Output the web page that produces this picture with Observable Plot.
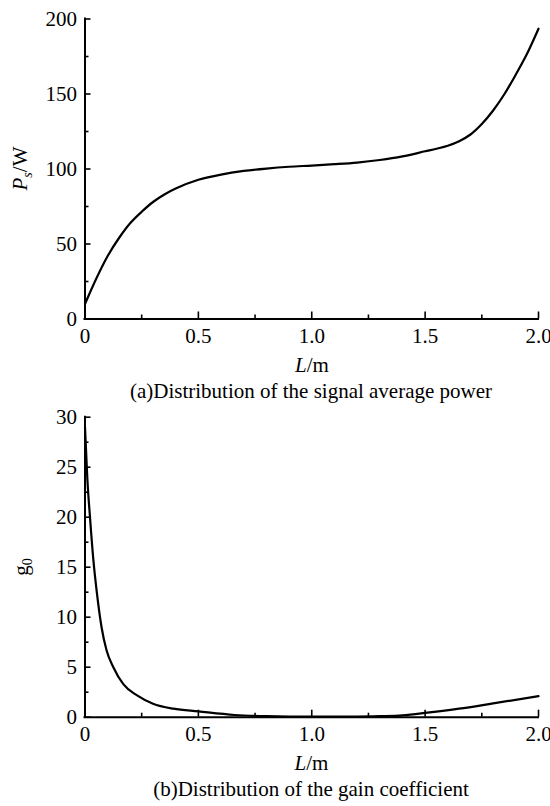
<!DOCTYPE html>
<html>
<head>
<meta charset="utf-8">
<script src="https://cdn.jsdelivr.net/npm/d3@7"></script>
<script src="https://cdn.jsdelivr.net/npm/@observablehq/plot@0.6"></script>
<style>
  body { margin: 0; background: #fff; }
  #chart { width: 550px; height: 806px; }
  #chart svg { display: block; font-family: "Liberation Serif", "Times New Roman", serif !important; }
  #chart svg text, #chart svg g { font-family: "Liberation Serif", "Times New Roman", serif !important; font-variant: normal !important; font-variant-numeric: normal !important; }
</style>
</head>
<body>
<div id="chart"></div>
<script>
// ---- Data ----
// (a) signal average power Ps (W) vs L (m)
const La = [0, 0.05, 0.10, 0.15, 0.20, 0.25, 0.30, 0.35, 0.40, 0.50, 0.60, 0.70, 0.80, 0.90, 1.00, 1.10, 1.20, 1.30, 1.40, 1.50, 1.55, 1.60, 1.65, 1.70, 1.75, 1.80, 1.85, 1.90, 1.95, 2.00];
const Ps = [10, 27, 42, 54, 64, 71.5, 78, 83, 87, 92.8, 96.3, 98.7, 100.3, 101.5, 102.3, 103.2, 104.3, 106, 108.4, 111.8, 113.5, 115.5, 118.5, 123, 130, 139, 150, 163, 177, 193.5];
// (b) gain coefficient g0 vs L (m)
const Lb = [0, 0.005, 0.01, 0.022, 0.037, 0.051, 0.073, 0.095, 0.125, 0.169, 0.228, 0.30, 0.39, 0.50, 0.66, 0.80, 1.00, 1.20, 1.30, 1.40, 1.51, 1.65, 1.80, 2.00];
const g0 = [29, 26.5, 24, 20, 15.7, 12.7, 9, 6.7, 5, 3.3, 2.2, 1.35, 0.85, 0.58, 0.22, 0.1, 0.05, 0.06, 0.1, 0.18, 0.45, 0.85, 1.38, 2.1];

// ---- Ticks ----
const xTicks = [0, 0.5, 1.0, 1.5, 2.0];
const xTickLabels = ["0", "0.5", "1.0", "1.5", "2.0"];
const xMinor = [0.25, 0.75, 1.25, 1.75];
const yTicksA = [0, 50, 100, 150, 200];
const yTickLabelsA = ["0", "50", "100", "150", "200"];
const yMinorA = [25, 75, 125, 175];
const yTicksB = [0, 5, 10, 15, 20, 25, 30];
const yTickLabelsB = ["0", "5", "10", "15", "20", "25", "30"];
const yMinorB = [2.5, 7.5, 12.5, 17.5, 22.5, 27.5];

const captionA = "(a)Distribution of the signal average power";
const captionB = "(b)Distribution of the gain coefficient";

const FONT = '"Liberation Serif", "Times New Roman", serif';
const FS = 21;

function panel({L, V, yDomain, yTicks, yLabels, yMinor, height, marginTop, marginBottom, curve}) {
  const marginLeft = 84.5, marginRight = 12, width = 550;
  const plotW = width - marginLeft - marginRight;
  const plotH = height - marginTop - marginBottom;
  const data = L.map((x, i) => ({x, y: V[i]}));
  const svg = Plot.plot({
    width, height, marginLeft, marginRight, marginTop, marginBottom,
    style: {fontFamily: FONT, fontSize: FS + "px", background: "#fff", color: "#000", overflow: "visible"},
    x: {domain: [0, 2]},
    y: {domain: yDomain},
    marks: [
      Plot.ruleX([0], {stroke: "#000", strokeWidth: 2, strokeLinecap: "square"}),
      Plot.ruleY([yDomain[0]], {stroke: "#000", strokeWidth: 2, strokeLinecap: "square"}),
      Plot.tickX(xTicks, {x: d => d, insetTop: plotH - 7, stroke: "#000", strokeWidth: 1.6}),
      Plot.tickX(xMinor, {x: d => d, insetTop: plotH - 4, stroke: "#000", strokeWidth: 1.6}),
      Plot.tickY(yTicks, {y: d => d, insetRight: plotW - 6, stroke: "#000", strokeWidth: 1.6}),
      Plot.tickY(yMinor, {y: d => d, insetRight: plotW - 4, stroke: "#000", strokeWidth: 1.6}),
      Plot.axisX(xTicks, {tickSize: 0, tickPadding: 9, fontSize: FS, fontFamily: FONT, fontVariant: "normal", label: null,
        tickFormat: d => xTickLabels[xTicks.indexOf(d)]}),
      Plot.axisY(yTicks, {tickSize: 0, tickPadding: 8, fontSize: FS, fontFamily: FONT, fontVariant: "normal", label: null,
        tickFormat: d => yLabels[yTicks.indexOf(d)]}),
      Plot.line(data, {x: "x", y: "y", curve, stroke: "#000", strokeWidth: 2.2})
    ]
  });
  svg.style.fontFamily = FONT;
  return svg;
}

const root = document.getElementById("chart");

// Panel (a)
const svgA = panel({L: La, V: Ps, yDomain: [0, 200], yTicks: yTicksA, yLabels: yTickLabelsA, yMinor: yMinorA,
  height: 405, marginTop: 18.5, marginBottom: 86.5, curve: "catmull-rom"});
root.appendChild(svgA);
{
  const s = d3.select(svgA);
  const yl = s.append("text").attr("transform", "translate(27,168.5) rotate(-90)")
    .attr("text-anchor", "middle").attr("font-family", FONT).attr("font-size", FS).attr("fill", "#000");
  yl.append("tspan").attr("font-style", "italic").text("P");
  yl.append("tspan").attr("font-style", "italic").attr("font-size", 14).attr("dy", 5).text("s");
  yl.append("tspan").attr("dy", -5).text("/W");
  const xl = s.append("text").attr("x", 312).attr("y", 371.5)
    .attr("text-anchor", "middle").attr("font-family", FONT).attr("font-size", FS).attr("fill", "#000");
  xl.append("tspan").attr("font-style", "italic").text("L");
  xl.append("tspan").text("/m");
  s.append("text").attr("x", 311).attr("y", 398).attr("text-anchor", "middle")
    .attr("font-family", FONT).attr("font-size", FS).attr("fill", "#000").text(captionA);
}

// Panel (b)
const svgB = panel({L: Lb, V: g0, yDomain: [0, 30], yTicks: yTicksB, yLabels: yTickLabelsB, yMinor: yMinorB,
  height: 401, marginTop: 11.7, marginBottom: 89.3, curve: "monotone-x"});
root.appendChild(svgB);
{
  const s = d3.select(svgB);
  const yl = s.append("text").attr("transform", "translate(28,162) rotate(-90)")
    .attr("text-anchor", "middle").attr("font-family", FONT).attr("font-size", FS).attr("fill", "#000");
  yl.append("tspan").text("g");
  yl.append("tspan").attr("font-size", 14).attr("dy", 4).text("0");
  const xl = s.append("text").attr("x", 311.5).attr("y", 365)
    .attr("text-anchor", "middle").attr("font-family", FONT).attr("font-size", FS).attr("fill", "#000");
  xl.append("tspan").attr("font-style", "italic").text("L");
  xl.append("tspan").text("/m");
  s.append("text").attr("x", 311).attr("y", 391).attr("text-anchor", "middle")
    .attr("font-family", FONT).attr("font-size", FS).attr("fill", "#000").text(captionB);
}
</script>
</body>
</html>
